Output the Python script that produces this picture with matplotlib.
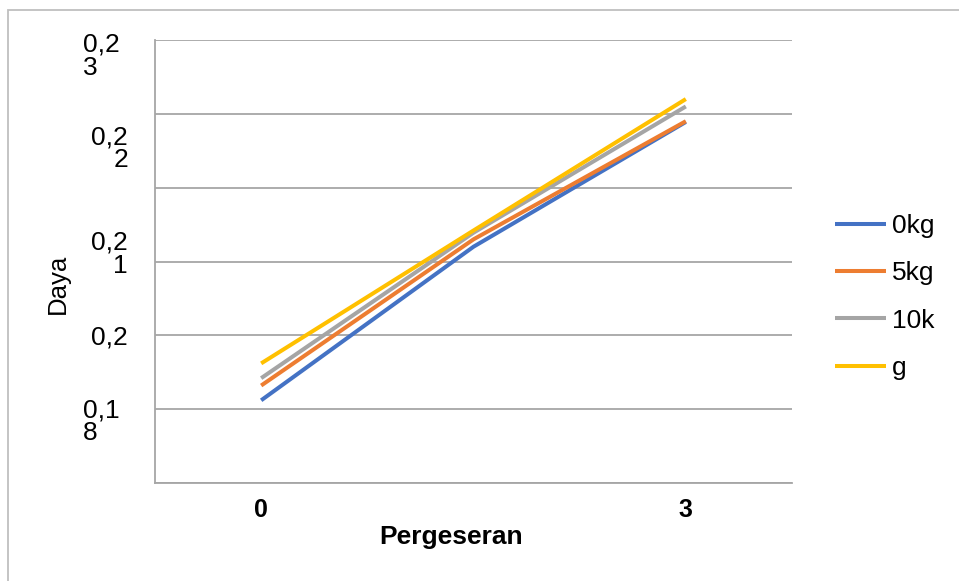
import matplotlib
matplotlib.use("Agg")
import matplotlib.pyplot as plt
import matplotlib.transforms as mtransforms
from matplotlib.patches import Rectangle
import numpy as np

plt.rcParams['font.family'] = ['Liberation Sans', 'DejaVu Sans']

# data
pergeseran = ["0", "", "3"]
daya_0kg = [0.1812, 0.2020, 0.2189]
daya_5kg = [0.1832, 0.2030, 0.2190]
daya_10kg = [0.1842, 0.2039, 0.2210]
daya_g = [0.1862, 0.2042, 0.2220]
series_names = ["0kg", "5kg", "10k", "g"]
series_colors = ["#4472C4", "#ED7D31", "#A5A5A5", "#FFC000"]

grid_values = [0.17, 0.18, 0.19, 0.20, 0.21, 0.22, 0.23]
# wrapped y labels as they come out of the narrow label column
y_labels = ["0,2\n3", "0,2\n2", "0,2\n1", "0,2", "0,1\n8"]
y_label_pos = [0.2278, 0.2153, 0.2010, 0.1897, 0.1783]
y_label_ha = ["left", "right", "right", "right", "left"]

W, H = 959, 581
fig = plt.figure(figsize=(W / 100, H / 100), dpi=100)
ax = fig.add_axes([155 / W, 1 - 483 / H, (792 - 155) / W, (483 - 40) / H])

x = np.arange(len(pergeseran))
for vals, name, col in zip([daya_0kg, daya_5kg, daya_10kg, daya_g],
                           series_names, series_colors):
    ax.plot(x, vals, color=col, lw=2.9, label=name, solid_capstyle='butt', zorder=3)

ax.set_xlim(-0.5, len(pergeseran) - 0.5)
ax.set_ylim(grid_values[0], grid_values[-1])
ax.set_yticks(grid_values)
ax.set_yticklabels([])
ax.yaxis.grid(True, color="#A6A6A6", lw=1.3)
ax.tick_params(axis='y', length=0)
ax.set_xticks(x)
ax.set_xticklabels(pergeseran, fontsize=18, fontweight='bold')
ax.tick_params(axis='x', length=0, pad=11)

for side in ["top", "right"]:
    ax.spines[side].set_visible(False)
for side in ["left", "bottom"]:
    ax.spines[side].set_color("#A6A6A6")
    ax.spines[side].set_linewidth(1.3)

# y labels
trans = mtransforms.blended_transform_factory(fig.transFigure, ax.transData)
for lab, yv, ha in zip(y_labels, y_label_pos, y_label_ha):
    xp = 83 / W if ha == "left" else 128 / W
    fig.text(xp, yv, lab, transform=trans, ha=ha, va='center',
             multialignment=ha, fontsize=19, linespacing=0.95)

fig.text(58 / W, 1 - 284 / H, "Daya", rotation=90, ha='center', va='center',
         fontsize=18.5)
fig.text(451 / W, 1 - 537 / H, "Pergeseran", ha='center', va='center',
         fontsize=19, fontweight='bold')

leg = ax.legend(loc='center left', bbox_to_anchor=(835 / W, 1 - 297 / H),
                bbox_transform=fig.transFigure, frameon=False, fontsize=19,
                handlelength=1.95, handletextpad=0.2, labelspacing=0.88,
                borderpad=0, borderaxespad=0)
for line in leg.get_lines():
    line.set_linewidth(2.9)

# chart frame
fig.patches.append(Rectangle((8 / W, -0.05), 1.1, 1 - 10 / H + 0.05,
                             transform=fig.transFigure, fill=False,
                             edgecolor="#BFBFBF", lw=1.3))

fig.savefig("out.png", dpi=100)
